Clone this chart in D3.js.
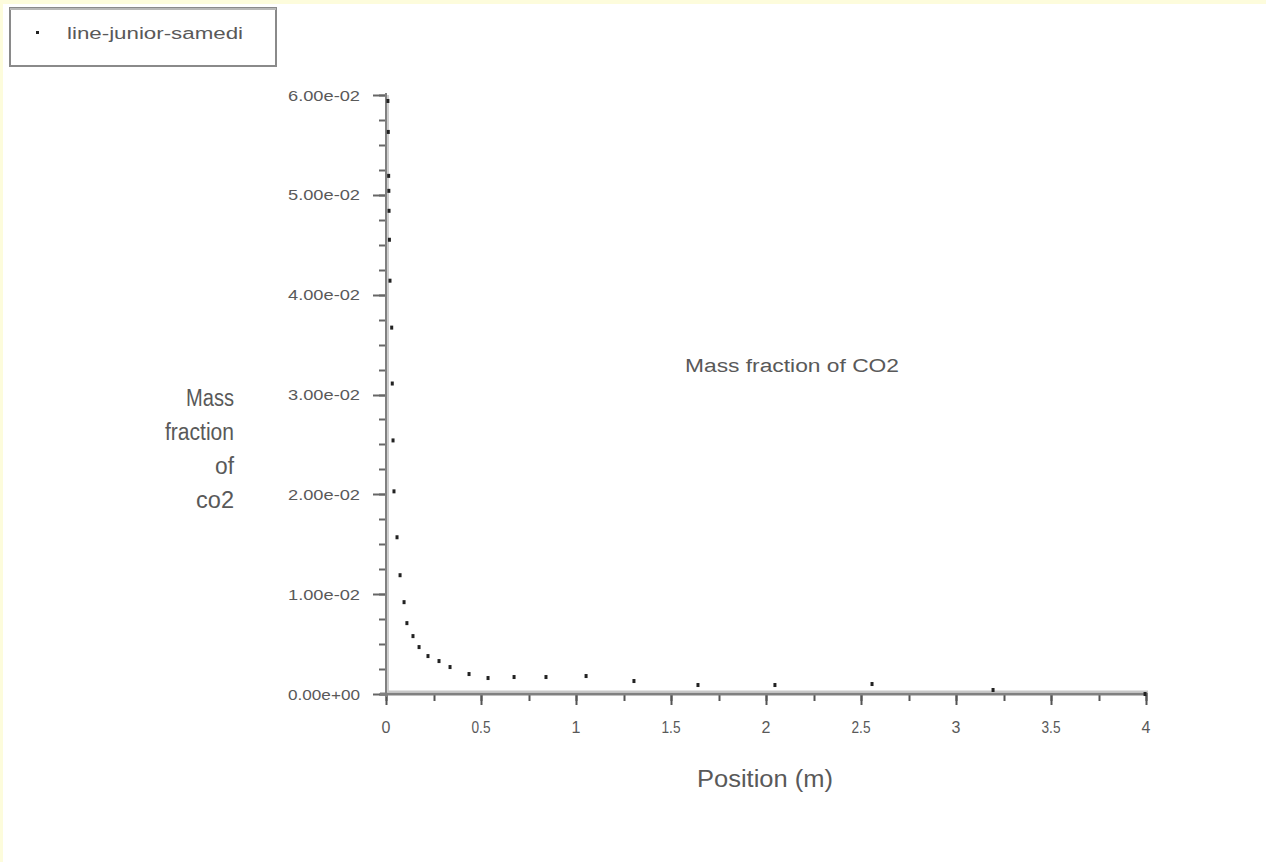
<!DOCTYPE html>
<html><head><meta charset="utf-8">
<script src="https://cdn.jsdelivr.net/npm/d3@7"></script>
<style>
html,body{margin:0;padding:0;background:#fff;}
svg{display:block;font-family:"Liberation Sans",Arial,sans-serif;}
</style></head>
<body>
<svg id="c" width="1266" height="862"></svg>
<script>
// Data (position in m, mass fraction of CO2)
const positions = [0.010, 0.012, 0.014, 0.015, 0.016, 0.018, 0.021, 0.030, 0.033, 0.037, 0.042,
  0.058, 0.074, 0.095, 0.110, 0.142, 0.174, 0.221, 0.279, 0.337, 0.437, 0.537, 0.674, 0.842,
  1.053, 1.305, 1.642, 2.047, 2.558, 3.195, 3.995];
const massFraction = [0.0594, 0.0563, 0.0519, 0.0504, 0.0484, 0.0455, 0.0414, 0.0367, 0.0311, 0.0254, 0.0203,
  0.0157, 0.0119, 0.0092, 0.0071, 0.0058, 0.0047, 0.0038, 0.0033, 0.0027, 0.0020, 0.0016, 0.0017, 0.0017,
  0.0018, 0.0013, 0.0009, 0.0009, 0.0010, 0.0004, 0.0000];
const yTickValues = [0, 0.01, 0.02, 0.03, 0.04, 0.05, 0.06];
const yTickLabels = ["0.00e+00", "1.00e-02", "2.00e-02", "3.00e-02", "4.00e-02", "5.00e-02", "6.00e-02"];
const xTickValues = [0, 0.5, 1, 1.5, 2, 2.5, 3, 3.5, 4];
const xTickLabels = ["0", "0.5", "1", "1.5", "2", "2.5", "3", "3.5", "4"];
const seriesName = "line-junior-samedi";
const xTitle = "Position (m)";
const yTitleLines = ["Mass", "fraction", "of", "co2"];
const plotTitle = "Mass fraction of CO2";

const svg = d3.select("#c");
const txt = "#595959";

// pale yellow frame (top / left)
svg.append("rect").attr("x",0).attr("y",0).attr("width",1266).attr("height",4).attr("fill","#fdfcdc");
svg.append("rect").attr("x",0).attr("y",0).attr("width",3).attr("height",862).attr("fill","#fdfcdc");

const x = d3.scaleLinear().domain([0,4]).range([386,1146]);
const y = d3.scaleLinear().domain([0,0.06]).range([694,95]);

// minor ticks
const yMinor = d3.range(0, 0.0601, 0.0025);
const xMinor = d3.range(0, 4.001, 0.25);

const gy = svg.append("g");
gy.selectAll("line.minor").data(yMinor).join("line")
  .attr("x1",379).attr("x2",386).attr("y1",d=>Math.round(y(d))+0.5).attr("y2",d=>Math.round(y(d))+0.5)
  .attr("stroke","#666").attr("stroke-width",2);
gy.selectAll("line.major").data(yTickValues).join("line")
  .attr("x1",373).attr("x2",386).attr("y1",d=>Math.round(y(d))+0.5).attr("y2",d=>Math.round(y(d))+0.5)
  .attr("stroke","#666").attr("stroke-width",2);
gy.selectAll("text").data(yTickValues).join("text")
  .attr("x",360).attr("y",d=>y(d)+5.5).attr("text-anchor","end")
  .attr("font-size",15).attr("fill",txt)
  .attr("textLength",72).attr("lengthAdjust","spacingAndGlyphs")
  .text((d,i)=>yTickLabels[i]);

const gx = svg.append("g");
gx.selectAll("line.minor").data(xMinor).join("line")
  .attr("x1",d=>Math.round(x(d))+0.5).attr("x2",d=>Math.round(x(d))+0.5).attr("y1",694).attr("y2",701)
  .attr("stroke","#555").attr("stroke-width",2);
gx.selectAll("line.major").data(xTickValues).join("line")
  .attr("x1",d=>Math.round(x(d))+0.5).attr("x2",d=>Math.round(x(d))+0.5).attr("y1",694).attr("y2",705)
  .attr("stroke","#555").attr("stroke-width",2);
gx.selectAll("text").data(xTickValues).join("text")
  .attr("x",d=>x(d)).attr("y",733).attr("text-anchor","middle")
  .attr("font-size",16).attr("fill",txt)
  .each(function(d,i){ if (xTickLabels[i].length > 1) d3.select(this).attr("textLength",19).attr("lengthAdjust","spacingAndGlyphs"); })
  .text((d,i)=>xTickLabels[i]);

// axis lines (dark + light shadow)
svg.append("line").attr("x1",386).attr("x2",386).attr("y1",93).attr("y2",697).attr("stroke","#808080").attr("stroke-width",2);
svg.append("line").attr("x1",388).attr("x2",388).attr("y1",95).attr("y2",692).attr("stroke","#cfcfcf").attr("stroke-width",2);
svg.append("line").attr("x1",380).attr("x2",1148).attr("y1",694).attr("y2",694).attr("stroke","#808080").attr("stroke-width",3);
svg.append("line").attr("x1",388).attr("x2",1148).attr("y1",691.5).attr("y2",691.5).attr("stroke","#c8c8c8").attr("stroke-width",2);

// data points
svg.append("g").selectAll("rect").data(positions).join("rect")
  .attr("x",(d)=>x(d)-1.5).attr("y",(d,i)=>y(massFraction[i])-2)
  .attr("width",3).attr("height",4).attr("fill","#222");

// titles
svg.append("text").attr("x",765).attr("y",787).attr("text-anchor","middle")
  .attr("font-size",23).attr("fill",txt)
  .attr("textLength",136).attr("lengthAdjust","spacingAndGlyphs").text(xTitle);

const yTitleWidths = [48, 69, 19, 38];
svg.append("g").selectAll("text").data(yTitleLines).join("text")
  .attr("x",234).attr("y",(d,i)=>406+i*34).attr("text-anchor","end")
  .attr("font-size",23).attr("fill",txt)
  .attr("textLength",(d,i)=>yTitleWidths[i]).attr("lengthAdjust","spacingAndGlyphs")
  .text(d=>d);

svg.append("text").attr("x",685).attr("y",372)
  .attr("font-size",18).attr("fill",txt)
  .attr("textLength",214).attr("lengthAdjust","spacingAndGlyphs").text(plotTitle);

// legend
svg.append("rect").attr("x",10).attr("y",8).attr("width",266).attr("height",58)
  .attr("fill","#fff").attr("stroke","#8a8a8a").attr("stroke-width",2);
svg.append("line").attr("x1",10).attr("x2",276).attr("y1",9).attr("y2",9).attr("stroke","#b8b8b8").attr("stroke-width",2);
svg.append("rect").attr("x",36).attr("y",31).attr("width",3).attr("height",3).attr("fill","#222");
svg.append("text").attr("x",67).attr("y",39).attr("font-size",16).attr("fill",txt)
  .attr("textLength",176).attr("lengthAdjust","spacingAndGlyphs").text(seriesName);
</script>
</body></html>
